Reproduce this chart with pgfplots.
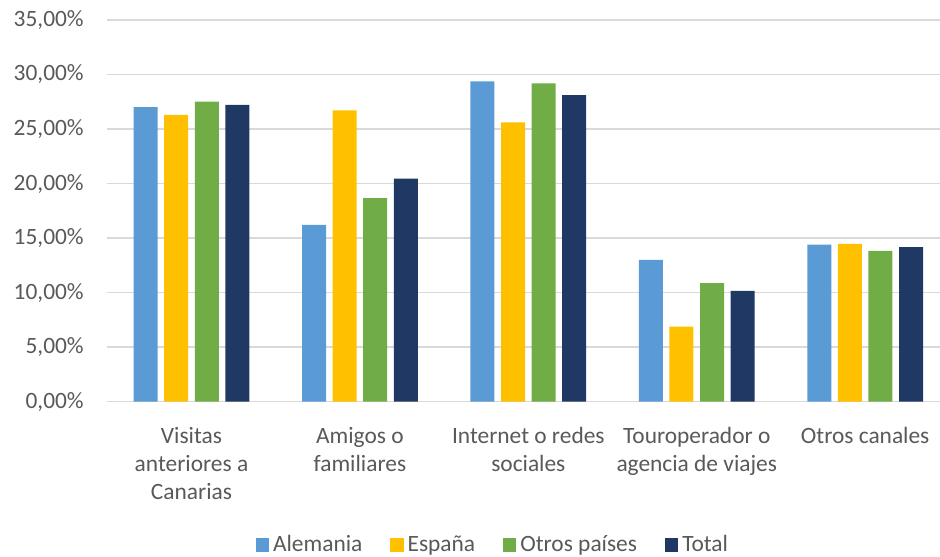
\documentclass[border=0pt]{standalone}
\usepackage{pgfplots}
\pgfplotsset{compat=1.18}
\usepackage{fontspec}
\setmainfont{Carlito}

\definecolor{alemania}{HTML}{5B9BD5}
\definecolor{espana}{HTML}{FFC000}
\definecolor{otros}{HTML}{70AD47}
\definecolor{total}{HTML}{203864}
\definecolor{txt}{HTML}{595959}
\definecolor{gridc}{HTML}{D9D9D9}

\pgfplotsset{sqlegend/.style={legend image code/.code={\fill[##1,draw=none] (0pt,-3.3pt) rectangle (6.6pt,3.3pt);}}}

\begin{document}
\begin{tikzpicture}
\fontsize{11.7}{14}\selectfont
% fixed frame: 940x556 px at 0.5pt per px
\useasboundingbox (-53.65pt,-77.15pt) rectangle (416.35pt,200.85pt);
\begin{axis}[
    at={(0,0)}, anchor=south west,
    scale only axis,
    width=416.4pt, height=190.9pt,
    ybar=3.3pt, bar width=12pt,
    xmin=-0.5, xmax=4.445,
    ymin=0, ymax=35,
    xtick={0,1,2,3,4},
    xticklabels={{Visitas\\anteriores a\\Canarias},{Amigos o\\familiares},{Internet o redes\\sociales},{Touroperador o\\agencia de viajes},{Otros canales}},
    ytick={0,5,10,15,20,25,30,35},
    yticklabels={0{,}00\%,5{,}00\%,10{,}00\%,15{,}00\%,20{,}00\%,25{,}00\%,30{,}00\%,35{,}00\%},
    major tick length=0pt,
    axis line style={draw=none},
    ymajorgrids=true,
    grid style={gridc, line width=0.75pt},
    xticklabel style={align=center, text=txt, font=\fontsize{11.7}{14}\selectfont, yshift=-8.5pt},
    yticklabel style={text=txt, font=\fontsize{11.7}{14}\selectfont, xshift=-7.7pt},
    legend columns=4,
    legend style={draw=none, fill=none, at={(0.4643,-0.3753)}, anchor=center,
        font=\fontsize{11.7}{14}\selectfont, text=txt,
        /tikz/every even column/.append style={column sep=12pt}},
]
\addplot[fill=alemania, draw=none, sqlegend] coordinates {(0,27.0) (1,16.2) (2,29.36) (3,13.0) (4,14.4)};
\addlegendentry{Alemania}
\addplot[fill=espana, draw=none, sqlegend] coordinates {(0,26.3) (1,26.7) (2,25.6) (3,6.88) (4,14.47)};
\addlegendentry{España}
\addplot[fill=otros, draw=none, sqlegend] coordinates {(0,27.5) (1,18.66) (2,29.17) (3,10.86) (4,13.83)};
\addlegendentry{Otros países}
\addplot[fill=total, draw=none, sqlegend] coordinates {(0,27.2) (1,20.46) (2,28.1) (3,10.16) (4,14.17)};
\addlegendentry{Total}
\end{axis}
\end{tikzpicture}
\end{document}
